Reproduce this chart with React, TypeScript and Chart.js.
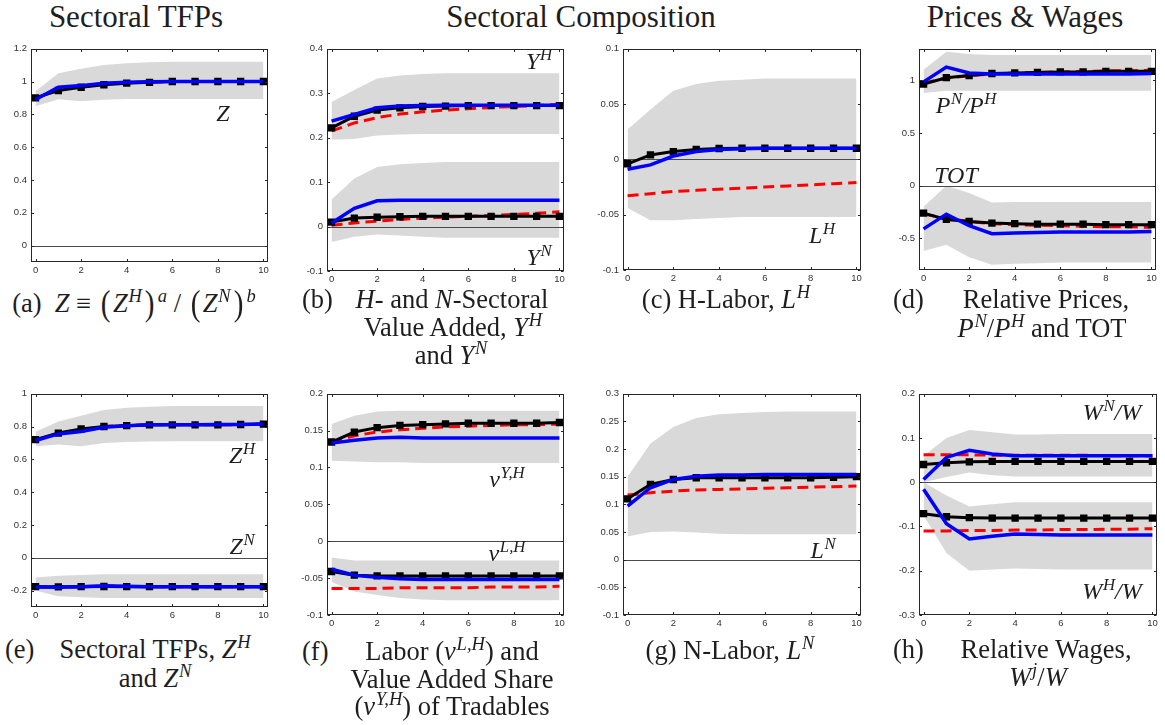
import React, { useEffect, useRef } from 'react';
import { Chart, registerables } from 'chart.js';
Chart.register(...registerables);
Chart.defaults.font.family = 'Liberation Sans';

// ---------- data ----------
const periods = [0, 1, 2, 3, 4, 5, 6, 7, 8, 9, 10];
const xTicks = [0, 2, 4, 6, 8, 10];

// (a) Z
const aZ_black = [0.90, 0.945, 0.965, 0.98, 0.99, 0.995, 1.0, 1.0, 1.0, 1.0, 1.0];
const aZ_blue = [0.89, 0.965, 0.975, 0.99, 0.995, 0.998, 1.0, 1.0, 1.0, 1.0, 1.0];
const aZ_red = [0.895, 0.96, 0.972, 0.988, 0.994, 0.997, 1.0, 1.0, 1.0, 1.0, 1.0];
const aZ_hi = [0.94, 1.05, 1.078, 1.10, 1.112, 1.117, 1.12, 1.12, 1.12, 1.12, 1.12];
const aZ_lo = [0.85, 0.892, 0.879, 0.889, 0.893, 0.894, 0.894, 0.894, 0.894, 0.894, 0.894];
const aTicks = [0, 0.2, 0.4, 0.6, 0.8, 1, 1.2];

// (b) Y^H, Y^N
const bH_black = [0.222, 0.248, 0.262, 0.267, 0.270, 0.271, 0.272, 0.272, 0.272, 0.272, 0.272];
const bH_blue = [0.237, 0.252, 0.267, 0.271, 0.272, 0.273, 0.273, 0.273, 0.273, 0.273, 0.273];
const bH_red = [0.215, 0.233, 0.245, 0.253, 0.258, 0.262, 0.265, 0.268, 0.270, 0.272, 0.275];
const bH_hi = [0.280, 0.307, 0.333, 0.340, 0.343, 0.345, 0.345, 0.345, 0.345, 0.345, 0.345];
const bH_lo = [0.195, 0.197, 0.205, 0.207, 0.208, 0.208, 0.208, 0.208, 0.208, 0.208, 0.208];
const bN_black = [0.010, 0.019, 0.021, 0.022, 0.023, 0.023, 0.023, 0.023, 0.023, 0.023, 0.023];
const bN_blue = [0.008, 0.041, 0.058, 0.059, 0.059, 0.059, 0.059, 0.059, 0.059, 0.059, 0.059];
const bN_red = [0.003, 0.008, 0.012, 0.016, 0.019, 0.021, 0.023, 0.025, 0.027, 0.030, 0.033];
const bN_hi = [0.061, 0.108, 0.134, 0.140, 0.143, 0.145, 0.145, 0.145, 0.145, 0.145, 0.145];
const bN_lo = [-0.035, -0.023, -0.018, -0.020, -0.023, -0.025, -0.025, -0.025, -0.025, -0.025, -0.025];
const bTicks = [-0.1, 0, 0.1, 0.2, 0.3, 0.4];

// (c) L^H
const cL_black = [-0.004, 0.004, 0.007, 0.009, 0.0098, 0.010, 0.010, 0.010, 0.010, 0.010, 0.010];
const cL_blue = [-0.009, -0.005, 0.003, 0.007, 0.009, 0.0095, 0.010, 0.010, 0.010, 0.010, 0.010];
const cL_red = [-0.033, -0.031, -0.029, -0.028, -0.027, -0.026, -0.025, -0.024, -0.023, -0.022, -0.021];
const cL_hi = [0.027, 0.045, 0.062, 0.068, 0.071, 0.072, 0.073, 0.073, 0.073, 0.073, 0.073];
const cL_lo = [-0.044, -0.055, -0.055, -0.054, -0.053, -0.052, -0.052, -0.052, -0.052, -0.052, -0.052];
const cTicks = [-0.1, -0.05, 0, 0.05, 0.1];

// (d) P^N/P^H, TOT
const dP_black = [0.965, 1.025, 1.045, 1.065, 1.07, 1.075, 1.08, 1.08, 1.085, 1.085, 1.085];
const dP_blue = [0.985, 1.125, 1.07, 1.06, 1.06, 1.06, 1.06, 1.06, 1.06, 1.06, 1.065];
const dP_red = [0.975, 1.02, 1.045, 1.06, 1.07, 1.075, 1.08, 1.085, 1.09, 1.09, 1.095];
const dP_hi = [1.10, 1.27, 1.25, 1.24, 1.24, 1.24, 1.24, 1.24, 1.24, 1.24, 1.24];
const dP_lo = [0.88, 0.90, 0.90, 0.90, 0.90, 0.90, 0.90, 0.90, 0.90, 0.90, 0.90];
const dT_black = [-0.26, -0.32, -0.34, -0.355, -0.36, -0.365, -0.365, -0.365, -0.37, -0.37, -0.37];
const dT_blue = [-0.41, -0.27, -0.38, -0.455, -0.45, -0.445, -0.44, -0.44, -0.44, -0.44, -0.435];
const dT_red = [-0.27, -0.31, -0.34, -0.36, -0.37, -0.375, -0.38, -0.385, -0.39, -0.39, -0.395];
const dT_hi = [-0.20, 0.0, -0.07, -0.16, -0.155, -0.155, -0.155, -0.155, -0.155, -0.155, -0.155];
const dT_lo = [-0.62, -0.56, -0.68, -0.75, -0.74, -0.735, -0.73, -0.73, -0.73, -0.73, -0.73];
const dTicks = [-0.5, 0, 0.5, 1];

// (e) Z^H, Z^N
const eH_black = [0.72, 0.76, 0.785, 0.80, 0.805, 0.81, 0.81, 0.81, 0.81, 0.812, 0.815];
const eH_blue = [0.715, 0.755, 0.77, 0.795, 0.805, 0.81, 0.81, 0.81, 0.812, 0.812, 0.815];
const eH_red = [0.718, 0.758, 0.78, 0.80, 0.807, 0.81, 0.81, 0.81, 0.81, 0.812, 0.815];
const eH_hi = [0.768, 0.83, 0.865, 0.90, 0.915, 0.92, 0.925, 0.925, 0.925, 0.925, 0.925];
const eH_lo = [0.68, 0.69, 0.68, 0.70, 0.705, 0.708, 0.71, 0.71, 0.71, 0.71, 0.71];
const eN_black = [-0.176, -0.177, -0.176, -0.175, -0.176, -0.176, -0.176, -0.176, -0.176, -0.176, -0.176];
const eN_blue = [-0.178, -0.18, -0.177, -0.17, -0.174, -0.176, -0.176, -0.176, -0.176, -0.176, -0.176];
const eN_red = [-0.177, -0.179, -0.177, -0.172, -0.175, -0.176, -0.176, -0.176, -0.176, -0.176, -0.176];
const eN_hi = [-0.12, -0.11, -0.105, -0.10, -0.10, -0.10, -0.10, -0.10, -0.10, -0.10, -0.10];
const eN_lo = [-0.20, -0.235, -0.24, -0.245, -0.245, -0.245, -0.245, -0.245, -0.245, -0.245, -0.245];
const eTicks = [-0.2, 0, 0.2, 0.4, 0.6, 0.8, 1];

// (f) nu^{Y,H}, nu^{L,H}
const fY_black = [0.1345, 0.148, 0.154, 0.157, 0.158, 0.159, 0.160, 0.160, 0.160, 0.160, 0.161];
const fY_blue = [0.133, 0.137, 0.140, 0.141, 0.140, 0.140, 0.140, 0.140, 0.140, 0.140, 0.140];
const fY_red = [0.134, 0.143, 0.148, 0.151, 0.153, 0.155, 0.156, 0.157, 0.158, 0.158, 0.159];
const fY_hi = [0.159, 0.170, 0.176, 0.177, 0.177, 0.177, 0.177, 0.177, 0.177, 0.177, 0.177];
const fY_lo = [0.109, 0.108, 0.107, 0.107, 0.106, 0.106, 0.106, 0.106, 0.106, 0.106, 0.106];
const fL_black = [-0.041, -0.046, -0.047, -0.047, -0.047, -0.047, -0.047, -0.047, -0.047, -0.047, -0.047];
const fL_blue = [-0.038, -0.046, -0.049, -0.051, -0.052, -0.052, -0.052, -0.052, -0.052, -0.052, -0.052];
const fL_red = [-0.064, -0.064, -0.064, -0.063, -0.063, -0.063, -0.063, -0.062, -0.062, -0.062, -0.061];
const fL_hi = [-0.022, -0.026, -0.026, -0.026, -0.026, -0.026, -0.026, -0.026, -0.026, -0.026, -0.026];
const fL_lo = [-0.055, -0.068, -0.073, -0.077, -0.079, -0.080, -0.080, -0.080, -0.080, -0.080, -0.080];
const fTicks = [-0.1, -0.05, 0, 0.05, 0.1, 0.15, 0.2];

// (g) L^N
const gL_black = [0.110, 0.136, 0.145, 0.148, 0.148, 0.148, 0.148, 0.148, 0.148, 0.149, 0.150];
const gL_blue = [0.097, 0.130, 0.145, 0.151, 0.153, 0.153, 0.154, 0.154, 0.154, 0.154, 0.154];
const gL_red = [0.117, 0.121, 0.124, 0.126, 0.127, 0.128, 0.129, 0.130, 0.131, 0.132, 0.133];
const gL_hi = [0.150, 0.210, 0.240, 0.256, 0.263, 0.265, 0.267, 0.268, 0.268, 0.268, 0.268];
const gL_lo = [0.042, 0.050, 0.051, 0.049, 0.047, 0.046, 0.046, 0.046, 0.046, 0.046, 0.046];
const gTicks = [-0.1, -0.05, 0, 0.05, 0.1, 0.15, 0.2, 0.25, 0.3];

// (h) W^N/W, W^H/W
const hN_black = [0.040, 0.044, 0.046, 0.047, 0.047, 0.047, 0.047, 0.047, 0.047, 0.047, 0.047];
const hN_blue = [0.006, 0.056, 0.072, 0.064, 0.060, 0.060, 0.060, 0.060, 0.060, 0.060, 0.060];
const hN_red = [0.062, 0.062, 0.062, 0.061, 0.061, 0.061, 0.061, 0.061, 0.060, 0.060, 0.060];
const hN_hi = [0.060, 0.100, 0.118, 0.113, 0.108, 0.108, 0.109, 0.109, 0.109, 0.109, 0.109];
const hN_lo = [0.0, 0.012, 0.022, 0.016, 0.013, 0.013, 0.013, 0.013, 0.013, 0.013, 0.013];
const hH_black = [-0.071, -0.078, -0.080, -0.081, -0.081, -0.081, -0.081, -0.081, -0.081, -0.081, -0.081];
const hH_blue = [-0.016, -0.094, -0.128, -0.122, -0.117, -0.118, -0.119, -0.119, -0.119, -0.119, -0.119];
const hH_red = [-0.110, -0.110, -0.109, -0.109, -0.108, -0.108, -0.107, -0.107, -0.106, -0.106, -0.105];
const hH_hi = [0.0, -0.030, -0.055, -0.050, -0.045, -0.045, -0.045, -0.045, -0.045, -0.045, -0.045];
const hH_lo = [-0.075, -0.160, -0.200, -0.197, -0.195, -0.196, -0.197, -0.197, -0.197, -0.197, -0.197];
const hTicks = [-0.3, -0.2, -0.1, 0, 0.1, 0.2];

// ---------- styling ----------
const BAND = '#d9d9d9';
const BLUE = '#0000ff';
const RED = '#ff0000';
const AXIS = '#262626';
const TICK_FONT = { family: 'Liberation Sans', size: 9.5 };
const Y_AXIS_W = 30;
const X_AXIS_H = 18;
const PAD_T = 8;
const PAD_R = 10;

type Group = { black: number[]; blue: number[]; red: number[]; lo: number[]; hi: number[] };
type Panel = {
  left: number; top: number; w: number; h: number;
  yMin: number; yMax: number; yTicks: number[]; groups: Group[];
};

const panels: Panel[] = [
  { left: 31, top: 47, w: 237, h: 215, yMin: -0.1, yMax: 1.2, yTicks: aTicks,
    groups: [{ black: aZ_black, blue: aZ_blue, red: aZ_red, lo: aZ_lo, hi: aZ_hi }] },
  { left: 327, top: 47, w: 237, h: 224, yMin: -0.1, yMax: 0.4, yTicks: bTicks,
    groups: [
      { black: bH_black, blue: bH_blue, red: bH_red, lo: bH_lo, hi: bH_hi },
      { black: bN_black, blue: bN_blue, red: bN_red, lo: bN_lo, hi: bN_hi }] },
  { left: 623, top: 47, w: 238, h: 223, yMin: -0.1, yMax: 0.1, yTicks: cTicks,
    groups: [{ black: cL_black, blue: cL_blue, red: cL_red, lo: cL_lo, hi: cL_hi }] },
  { left: 919, top: 47, w: 237, h: 223, yMin: -0.8, yMax: 1.3, yTicks: dTicks,
    groups: [
      { black: dP_black, blue: dP_blue, red: dP_red, lo: dP_lo, hi: dP_hi },
      { black: dT_black, blue: dT_blue, red: dT_red, lo: dT_lo, hi: dT_hi }] },
  { left: 31, top: 392, w: 237, h: 215, yMin: -0.3, yMax: 1, yTicks: eTicks,
    groups: [
      { black: eH_black, blue: eH_blue, red: eH_red, lo: eH_lo, hi: eH_hi },
      { black: eN_black, blue: eN_blue, red: eN_red, lo: eN_lo, hi: eN_hi }] },
  { left: 327, top: 392, w: 237, h: 223, yMin: -0.1, yMax: 0.2, yTicks: fTicks,
    groups: [
      { black: fY_black, blue: fY_blue, red: fY_red, lo: fY_lo, hi: fY_hi },
      { black: fL_black, blue: fL_blue, red: fL_red, lo: fL_lo, hi: fL_hi }] },
  { left: 623, top: 392, w: 238, h: 223, yMin: -0.1, yMax: 0.3, yTicks: gTicks,
    groups: [{ black: gL_black, blue: gL_blue, red: gL_red, lo: gL_lo, hi: gL_hi }] },
  { left: 919, top: 392, w: 238, h: 223, yMin: -0.3, yMax: 0.2, yTicks: hTicks,
    groups: [
      { black: hN_black, blue: hN_blue, red: hN_red, lo: hN_lo, hi: hN_hi },
      { black: hH_black, blue: hH_blue, red: hH_red, lo: hH_lo, hi: hH_hi }] },
];

const toPts = (vals: number[]) => periods.map((p, i) => ({ x: p, y: vals[i] }));

function drawZero(chart: any) {
  const { ctx, chartArea } = chart;
  const y0 = Math.round(chart.scales.y.getPixelForValue(0)) + 0.5;
  ctx.save();
  ctx.strokeStyle = '#4a4a4a';
  ctx.lineWidth = 1;
  ctx.beginPath();
  ctx.moveTo(chartArea.left, y0);
  ctx.lineTo(chartArea.right, y0);
  ctx.stroke();
  ctx.restore();
}

const framePlugin = {
  id: 'matlabFrame',
  beforeDraw(chart: any) { chart.$zeroDone = false; },
  beforeDatasetDraw(chart: any, args: any) {
    const ds: any = chart.data.datasets[args.index];
    if (ds.isLine && !chart.$zeroDone) { drawZero(chart); chart.$zeroDone = true; }
  },
  afterDatasetsDraw(chart: any) {
    if (!chart.$zeroDone) drawZero(chart);
    const { ctx, chartArea } = chart;
    const l = Math.round(chartArea.left) + 0.5;
    const r = Math.round(chartArea.right) - 0.5;
    const t = Math.round(chartArea.top) + 0.5;
    const b = Math.round(chartArea.bottom) - 0.5;
    const tl = 2.5;
    ctx.save();
    ctx.strokeStyle = AXIS;
    ctx.lineWidth = 1;
    ctx.strokeRect(l, t, r - l, b - t);
    ctx.beginPath();
    chart.scales.x.ticks.forEach((tk: any) => {
      const px = Math.round(chart.scales.x.getPixelForValue(tk.value)) + 0.5;
      ctx.moveTo(px, b); ctx.lineTo(px, b - tl);
      ctx.moveTo(px, t); ctx.lineTo(px, t + tl);
    });
    chart.scales.y.ticks.forEach((tk: any) => {
      const py = Math.round(chart.scales.y.getPixelForValue(tk.value)) + 0.5;
      ctx.moveTo(l, py); ctx.lineTo(l + tl, py);
      ctx.moveTo(r, py); ctx.lineTo(r - tl, py);
    });
    ctx.stroke();
    ctx.restore();
  },
};

function PanelChart({ p }: { p: Panel }) {
  const ref = useRef<HTMLCanvasElement>(null);
  useEffect(() => {
    if (!ref.current) return;
    const datasets: any[] = [];
    p.groups.forEach((g) => {
      datasets.push({ data: toPts(g.lo), borderWidth: 0, borderColor: 'rgba(0,0,0,0)', pointRadius: 0, fill: false, order: 10 });
      datasets.push({ data: toPts(g.hi), borderWidth: 0, borderColor: 'rgba(0,0,0,0)', pointRadius: 0, fill: '-1', backgroundColor: BAND, order: 10 });
    });
    p.groups.forEach((g) => {
      datasets.push({ data: toPts(g.red), borderColor: RED, borderWidth: 3, borderDash: [11, 6], pointRadius: 0, fill: false, order: 3, isLine: true });
      datasets.push({ data: toPts(g.black), borderColor: '#000', borderWidth: 3, pointStyle: 'rect', pointRadius: 5.2, pointBackgroundColor: '#000', pointBorderWidth: 0, fill: false, order: 2, isLine: true });
      datasets.push({ data: toPts(g.blue), borderColor: BLUE, borderWidth: 3.5, pointRadius: 0, fill: false, order: 1, isLine: true });
    });
    const chart = new Chart(ref.current, {
      type: 'line',
      data: { datasets },
      options: {
        responsive: false,
        animation: false,
        events: [],
        layout: { padding: { top: PAD_T, right: PAD_R, left: 0, bottom: 0 } },
        elements: { line: { tension: 0 } },
        plugins: { legend: { display: false }, tooltip: { enabled: false } },
        scales: {
          x: {
            type: 'linear', min: -0.2, max: 10.2,
            grid: { display: false, drawTicks: false }, border: { display: false },
            afterBuildTicks: (s: any) => { s.ticks = xTicks.map((v) => ({ value: v })); },
            afterFit: (s: any) => { s.height = X_AXIS_H; },
            ticks: { font: TICK_FONT, color: '#333', padding: 3, maxRotation: 0, autoSkip: false, callback: (v: any) => String(v) },
          },
          y: {
            type: 'linear', min: p.yMin, max: p.yMax,
            grid: { display: false, drawTicks: false }, border: { display: false },
            afterBuildTicks: (s: any) => { s.ticks = p.yTicks.map((v) => ({ value: v })); },
            afterFit: (s: any) => { s.width = Y_AXIS_W; },
            ticks: { font: TICK_FONT, color: '#333', padding: 4, autoSkip: false, callback: (v: any) => String(v) },
          },
        },
      } as any,
      plugins: [framePlugin as any],
    });
    return () => chart.destroy();
  }, [p]);
  const cw = p.w + Y_AXIS_W + PAD_R;
  const ch = p.h + PAD_T + X_AXIS_H;
  return (
    <canvas ref={ref} width={cw} height={ch}
      style={{ position: 'absolute', left: p.left - Y_AXIS_W, top: p.top - PAD_T, width: cw, height: ch }} />
  );
}

// ---------- text helpers ----------
const SERIF = '"Liberation Serif", "DejaVu Serif", serif';
const TXT = '#1e1e1e';

const T = ({ x, y, size, children, italic }: any) => (
  <div style={{ position: 'absolute', left: x, top: y, transform: 'translate(-50%,-50%)', fontSize: size, lineHeight: 1,
    whiteSpace: 'nowrap', fontFamily: SERIF, color: TXT, fontStyle: italic ? 'italic' : 'normal' }}>{children}</div>
);
const TL = ({ x, y, size, children }: any) => (
  <div style={{ position: 'absolute', left: x, top: y, transform: 'translateY(-50%)', fontSize: size, lineHeight: 1,
    whiteSpace: 'nowrap', fontFamily: SERIF, color: TXT }}>{children}</div>
);
const I = ({ children }: any) => <span style={{ fontStyle: 'italic' }}>{children}</span>;
const S = ({ children }: any) => (
  <span style={{ fontSize: '0.7em', position: 'relative', top: '-0.55em', verticalAlign: 'baseline', fontStyle: 'italic', marginLeft: '0.04em' }}>{children}</span>
);
const BP = ({ c }: any) => <span style={{ display: 'inline-block', transform: 'scale(1.1,1.35)', margin: '0 0.12em' }}>{c}</span>;

const TITLE = 31;
const CAP = 26.5;
const LAB = 24;

export default function App() {
  return (
    <div style={{ position: 'absolute', left: 0, top: 0, width: 1165, height: 725, background: '#fff', overflow: 'hidden' }}>
      {panels.map((p, i) => <PanelChart key={i} p={p} />)}

      {/* column titles */}
      <T x={136} y={15.5} size={TITLE}>Sectoral TFPs</T>
      <T x={581} y={15.5} size={TITLE}>Sectoral Composition</T>
      <T x={1025} y={15.5} size={TITLE}>Prices &amp; Wages</T>

      {/* inline labels */}
      <T x={223} y={113} size={LAB} italic>Z</T>
      <T x={539} y={61} size={LAB} italic>Y<S>H</S></T>
      <T x={539} y={257} size={LAB} italic>Y<S>N</S></T>
      <T x={822} y={235} size={LAB} italic>L<S>H</S></T>
      <T x={966} y={105} size={LAB} italic>P<S>N</S>/P<S>H</S></T>
      <T x={956} y={175} size={LAB} italic>TOT</T>
      <T x={242} y={455} size={LAB} italic>Z<S>H</S></T>
      <T x={242} y={546} size={LAB} italic>Z<S>N</S></T>
      <T x={507} y={479} size={LAB} italic>ν<S>Y,H</S></T>
      <T x={507} y={553} size={LAB} italic>ν<S>L,H</S></T>
      <T x={823} y={550} size={LAB} italic>L<S>N</S></T>
      <T x={1112} y={412} size={LAB} italic>W<S>N</S>/W</T>
      <T x={1112} y={591} size={LAB} italic>W<S>H</S>/W</T>

      {/* captions row 1 */}
      <T x={134} y={303} size={CAP}>(a)&nbsp; <I>Z</I> ≡ <BP c="(" /><I>Z</I><S>H</S><BP c=")" /><S>a</S> / <BP c="(" /><I>Z</I><S>N</S><BP c=")" /><S>b</S></T>
      <TL x={302} y={299} size={CAP}>(b)</TL>
      <T x={452} y={299} size={CAP}><I>H</I>- and <I>N</I>-Sectoral</T>
      <T x={453} y={327} size={CAP}>Value Added, <I>Y</I><S>H</S></T>
      <T x={451} y={355} size={CAP}>and <I>Y</I><S>N</S></T>
      <T x={726} y={299} size={CAP}>(c) H-Labor, <I>L</I><S>H</S></T>
      <TL x={893} y={299} size={CAP}>(d)</TL>
      <T x={1046} y={299} size={CAP}>Relative Prices,</T>
      <T x={1042} y={328} size={CAP}><I>P</I><S>N</S>/<I>P</I><S>H</S> and TOT</T>

      {/* captions row 2 */}
      <TL x={5} y={649} size={CAP}>(e)</TL>
      <T x={155} y={649} size={CAP}>Sectoral TFPs, <I>Z</I><S>H</S></T>
      <T x={155} y={678} size={CAP}>and <I>Z</I><S>N</S></T>
      <TL x={302} y={651} size={CAP}>(f)</TL>
      <T x={452} y={651} size={CAP}>Labor (<I>ν</I><S>L,H</S>) and</T>
      <T x={452} y={679} size={CAP}>Value Added Share</T>
      <T x={452} y={706} size={CAP}>(<I>ν</I><S>Y,H</S>) of Tradables</T>
      <T x={730} y={650} size={CAP}>(g) N-Labor, <I>L</I><S>N</S></T>
      <TL x={893} y={649} size={CAP}>(h)</TL>
      <T x={1046} y={649} size={CAP}>Relative Wages,</T>
      <T x={1038} y={677} size={CAP}><I>W</I><S>j</S>/<I>W</I></T>
    </div>
  );
}
